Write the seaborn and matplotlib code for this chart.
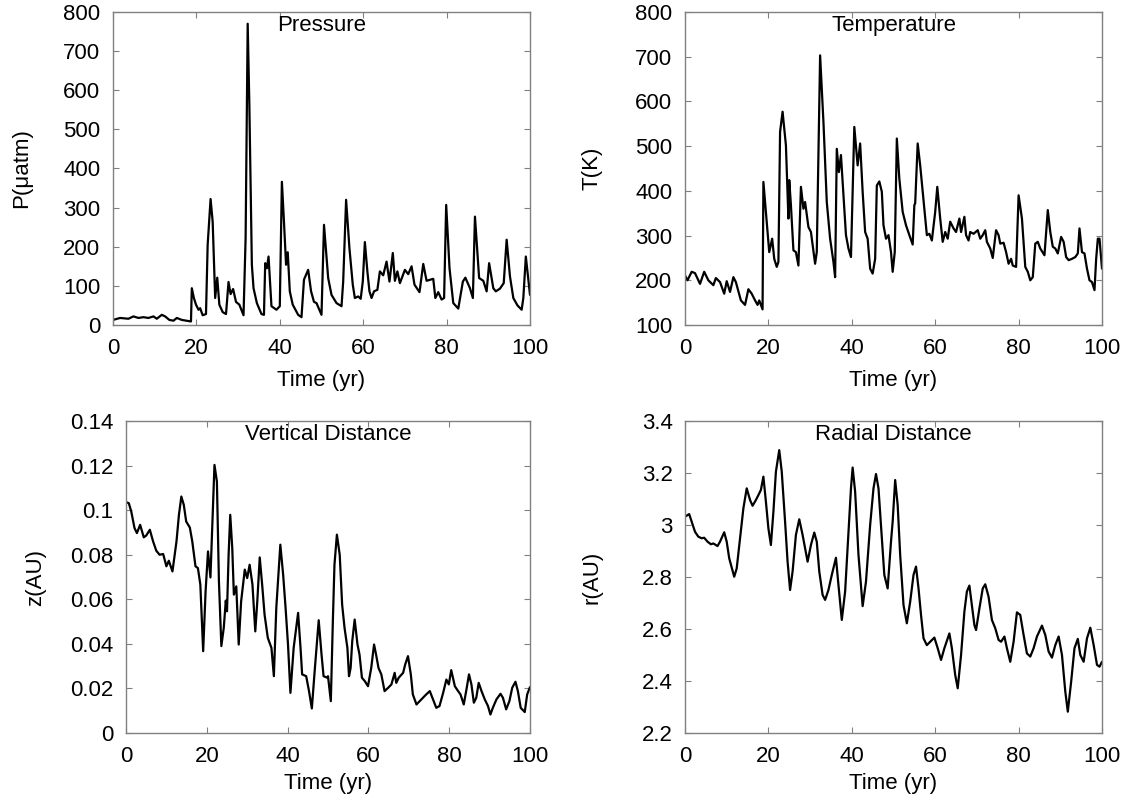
import matplotlib
matplotlib.use("Agg")
import matplotlib.pyplot as plt
from matplotlib.ticker import FormatStrFormatter, MultipleLocator
import seaborn as sns
import pandas as pd

# ---------------- data ----------------
p_time = [0, 1.7, 3.7, 4.9, 6.1, 7.3, 8.5, 9.7, 10.5, 11.7, 12.5, 13.5, 14.5, 15.3, 16.5, 18.7,
          18.9, 19.4, 19.9, 20.5, 20.9, 21.5, 22.3, 22.7, 23.4, 23.9, 24.5, 25.0, 25.5, 26.3, 27.1,
          27.7, 28.2, 28.8, 29.5, 30.3, 31.3, 31.8, 32.3, 32.7, 33.3, 33.7, 34.5, 35.6, 36.2, 36.5,
          36.9, 37.3, 38.0, 39.2, 40.0, 40.5, 41.0, 41.5, 41.9, 42.4, 43.1, 44.4, 45.2, 45.8, 46.8,
          47.5, 48.2, 48.8, 50.0, 50.6, 51.6, 52.4, 53.6, 54.8, 55.2, 55.9, 56.7, 57.5, 58.0, 58.8,
          59.4, 59.9, 60.4, 61.0, 61.5, 62.0, 62.6, 63.4, 64.0, 64.8, 65.6, 66.3, 67.1, 67.6, 68.2,
          68.8, 70.0, 70.8, 71.6, 72.3, 73.5, 74.4, 75.2, 76.2, 76.8, 77.3, 78.0, 78.8, 79.4, 79.9,
          80.7, 81.6, 82.8, 83.9, 84.5, 85.6, 86.3, 86.8, 87.8, 88.8, 89.6, 90.2, 91.2, 91.8, 92.8,
          93.7, 94.4, 95.2, 96.0, 97.0, 98.0, 98.4, 99.0, 100]
p_val = [13, 18, 16, 22, 18, 20, 18, 22, 16, 26, 22, 13, 11, 18, 13, 9,
         94, 69, 52, 39, 43, 25, 28, 205, 322, 264, 69, 121, 52, 33, 28,
         110, 79, 92, 59, 52, 25, 222, 770, 562, 154, 94, 56, 28, 26, 158,
         145, 175, 48, 39, 48, 366, 264, 154, 186, 86, 52, 26, 20, 116, 141,
         86, 59, 56, 26, 256, 120, 77, 56, 48, 111, 320, 196, 103, 69, 73,
         67, 111, 212, 137, 86, 69, 86, 90, 137, 127, 162, 111, 184, 113, 137,
         107, 141, 130, 150, 103, 84, 156, 113, 116, 118, 69, 84, 65, 69, 307,
         145, 56, 42, 111, 121, 94, 69, 277, 120, 113, 86, 158, 94, 86, 93,
         107, 218, 124, 69, 50, 39, 69, 175, 77]

t_time = [0, 0.6, 1.6, 2.4, 3.6, 4.6, 5.6, 6.8, 7.4, 8.4, 9.4, 10.0, 10.8, 11.6, 12.2, 13.4,
          14.4, 15.2, 16.0, 16.8, 17.4, 17.8, 18.6, 18.8, 19.4, 20.2, 20.9, 21.4, 22.0, 22.4, 22.8,
          23.4, 24.2, 24.8, 25.0, 25.4, 26.0, 26.6, 27.2, 27.8, 28.4, 28.8, 29.6, 30.2, 31.2, 31.6,
          32.4, 33.2, 34.0, 34.8, 35.6, 36.0, 36.4, 36.9, 37.4, 37.8, 38.6, 39.2, 39.8, 40.2, 40.6,
          41.4, 42.0, 42.6, 43.2, 43.8, 44.4, 45.0, 45.6, 46.0, 46.6, 47.2, 47.6, 48.2, 48.8, 49.4,
          49.8, 50.3, 50.8, 51.4, 52.2, 53.0, 53.8, 54.6, 55.0, 55.2, 55.8, 56.4, 57.0, 57.6, 58.0,
          58.6, 59.2, 60.0, 60.5, 61.2, 61.8, 62.4, 63.0, 63.6, 64.4, 65.0, 65.8, 66.2, 67.0, 67.4,
          68.0, 68.4, 69.2, 70.2, 70.8, 71.4, 72.0, 72.4, 73.2, 73.8, 74.6, 75.2, 75.6, 76.4, 77.0,
          77.6, 78.2, 78.6, 79.4, 80.0, 80.8, 81.6, 82.2, 82.8, 83.4, 84.0, 84.6, 85.2, 86.2, 87.0,
          87.6, 88.2, 88.8, 89.4, 90.2, 90.8, 91.4, 92.0, 92.8, 93.6, 94.2, 94.6, 95.2, 95.8, 96.4,
          97.0, 97.6, 98.2, 98.6, 99.0, 99.4, 100]
t_val = [211, 200, 219, 216, 192, 219, 200, 189, 205, 196, 170, 198, 174, 207, 196, 155,
         145, 180, 170, 155, 145, 155, 135, 420, 353, 263, 293, 248, 230, 241, 532,
         577, 502, 338, 424, 368, 267, 263, 233, 409, 360, 375, 319, 308, 237, 263,
         703, 554, 375, 293, 241, 207, 494, 442, 480, 420, 301, 271, 252, 398, 543,
         457, 506, 398, 308, 293, 226, 215, 248, 412, 421, 398, 323, 293, 301, 263,
         219, 263, 517, 427, 353, 323, 301, 280, 368, 372, 506, 457, 398, 338, 301,
         304, 289, 353, 409, 338, 286, 308, 293, 331, 316, 308, 338, 308, 342, 301,
         289, 308, 304, 312, 293, 301, 312, 286, 271, 250, 312, 301, 282, 284, 263,
         237, 248, 233, 230, 390, 338, 230, 219, 200, 207, 282, 286, 271, 256, 357,
         308, 275, 271, 260, 297, 286, 252, 245, 248, 252, 260, 316, 263, 260, 226,
         200, 196, 178, 248, 293, 293, 226]

z_time = [0, 0.7, 1.3, 2.1, 2.7, 3.5, 4.4, 5.0, 5.9, 6.7, 7.5, 8.3, 9.2, 10.0, 10.6, 11.5,
          12.5, 13.1, 13.7, 14.3, 14.9, 15.8, 16.4, 17.2, 17.8, 18.4, 19.1, 19.7, 20.3, 20.9, 21.4,
          21.9, 22.5, 23.0, 23.6, 24.2, 24.7, 25.0, 25.4, 25.8, 26.3, 26.7, 27.3, 27.9, 28.5, 29.4,
          30.0, 30.6, 31.3, 32.0, 32.5, 33.1, 33.7, 34.3, 35.1, 36.0, 36.6, 37.2, 38.2, 38.9, 39.5,
          40.1, 40.7, 41.5, 42.6, 43.2, 43.6, 44.6, 45.3, 46.0, 46.7, 47.7, 48.4, 48.9, 49.8, 50.0,
          50.7, 51.2, 51.6, 52.2, 52.9, 53.5, 54.1, 54.8, 55.2, 55.6, 56.0, 56.6, 57.3, 57.8, 58.4,
          59.1, 59.9, 60.7, 61.4, 61.9, 62.5, 63.2, 64.0, 64.9, 65.7, 66.5, 66.9, 67.5, 68.6, 69.1,
          69.8, 70.5, 71.0, 71.9, 72.7, 73.5, 74.3, 75.2, 76.0, 76.8, 77.6, 78.5, 79.3, 79.9, 80.5,
          81.4, 82.2, 82.8, 83.6, 84.2, 84.9, 85.5, 86.1, 86.7, 87.3, 88.0, 88.8, 89.6, 90.2, 90.8,
          91.7, 92.7, 93.3, 94.1, 94.9, 95.6, 96.4, 97.0, 97.7, 98.7, 99.3, 100]
z_val = [0.1036, 0.1031, 0.0994, 0.0920, 0.0897, 0.0934, 0.0878, 0.0886, 0.0912, 0.0860, 0.0818,
         0.0800, 0.0803, 0.0748, 0.0773, 0.0725, 0.0860, 0.0979, 0.1061, 0.1024, 0.0949, 0.0922,
         0.0860, 0.0748, 0.0740, 0.0666, 0.0367, 0.0636, 0.0815, 0.0698, 0.0949, 0.1203, 0.1128,
         0.0681, 0.0390, 0.0472, 0.0594, 0.0546, 0.0800, 0.0979, 0.0830, 0.0621, 0.0658, 0.0397,
         0.0591, 0.0733, 0.0695, 0.0755, 0.0666, 0.0456, 0.0591, 0.0788, 0.0666, 0.0531, 0.0427,
         0.0382, 0.0255, 0.0561, 0.0845, 0.0710, 0.0561, 0.0397, 0.0180, 0.0382, 0.0539, 0.0382,
         0.0263, 0.0255, 0.0188, 0.0110, 0.0278, 0.0506, 0.0352, 0.0255, 0.0248, 0.0255, 0.0143,
         0.0501, 0.0755, 0.0890, 0.0800, 0.0576, 0.0471, 0.0382, 0.0255, 0.0292, 0.0412, 0.0509,
         0.0397, 0.0352, 0.0248, 0.0233, 0.0210, 0.0292, 0.0397, 0.0352, 0.0292, 0.0263, 0.0188,
         0.0203, 0.0218, 0.0270, 0.0225, 0.0248, 0.0270, 0.0307, 0.0345, 0.0263, 0.0173, 0.0128,
         0.0143, 0.0158, 0.0173, 0.0188, 0.0151, 0.0113, 0.0121, 0.0180, 0.0240, 0.0218, 0.0282,
         0.0210, 0.0188, 0.0173, 0.0128, 0.0188, 0.0263, 0.0218, 0.0136, 0.0158, 0.0225, 0.0188,
         0.0151, 0.0121, 0.0083, 0.0113, 0.0151, 0.0176, 0.0158, 0.0106, 0.0143, 0.0203, 0.0230,
         0.0188, 0.0113, 0.0094, 0.0173, 0.0206]

r_time = [0, 1.0, 1.6, 2.4, 3.2, 4.0, 4.6, 5.4, 6.2, 6.8, 7.8, 8.4, 9.4, 10.0, 10.6, 11.8,
          12.4, 13.2, 14.0, 14.8, 15.6, 16.2, 17.0, 17.6, 18.2, 18.8, 19.4, 20.0, 20.6, 21.2, 21.8,
          22.6, 23.2, 24.0, 24.6, 25.2, 25.8, 26.6, 27.4, 28.2, 28.8, 29.4, 30.2, 31.0, 31.6, 32.2,
          33.0, 33.6, 34.4, 35.2, 36.2, 36.8, 37.6, 38.4, 39.2, 39.8, 40.2, 40.8, 41.6, 42.6, 43.4,
          44.4, 45.2, 45.8, 46.4, 47.2, 47.8, 48.6, 49.4, 49.8, 50.4, 51.0, 51.6, 52.4, 53.2, 54.0,
          54.8, 55.4, 56.0, 56.6, 57.2, 58.0, 58.8, 59.8, 60.6, 61.4, 62.2, 63.4, 64.0, 64.8, 65.4,
          66.2, 67.0, 67.6, 68.2, 68.8, 69.4, 69.8, 70.6, 71.4, 72.0, 72.8, 73.6, 74.4, 75.2, 75.8,
          76.6, 77.2, 78.0, 78.8, 79.6, 80.4, 81.2, 82.0, 82.8, 83.6, 84.4, 85.6, 86.4, 87.2, 88.0,
          88.8, 89.6, 90.4, 91.2, 91.8, 92.6, 93.4, 94.2, 94.8, 95.6, 96.4, 97.2, 98.0, 98.8, 99.4,
          100]
r_val = [3.032, 3.042, 3.013, 2.974, 2.955, 2.949, 2.951, 2.936, 2.926, 2.929, 2.919, 2.936,
         2.972, 2.936, 2.872, 2.801, 2.833, 2.949, 3.064, 3.141, 3.096, 3.074, 3.096, 3.115,
         3.135, 3.186, 3.090, 2.987, 2.923, 3.051, 3.205, 3.288, 3.205, 3.013, 2.859, 2.750,
         2.821, 2.962, 3.022, 2.962, 2.910, 2.859, 2.923, 2.971, 2.936, 2.821, 2.731, 2.712,
         2.750, 2.808, 2.874, 2.769, 2.635, 2.744, 2.974, 3.141, 3.221, 3.128, 2.885, 2.688,
         2.782, 3.000, 3.141, 3.196, 3.141, 2.949, 2.808, 2.756, 2.936, 3.013, 3.173, 3.077,
         2.885, 2.692, 2.622, 2.705, 2.808, 2.840, 2.756, 2.654, 2.564, 2.538, 2.551, 2.567,
         2.526, 2.481, 2.526, 2.583, 2.526, 2.423, 2.372, 2.500, 2.667, 2.744, 2.767, 2.692,
         2.615, 2.596, 2.679, 2.756, 2.772, 2.724, 2.635, 2.603, 2.558, 2.551, 2.571, 2.526,
         2.474, 2.551, 2.664, 2.654, 2.577, 2.506, 2.494, 2.526, 2.571, 2.613, 2.577, 2.513,
         2.490, 2.538, 2.571, 2.500, 2.359, 2.282, 2.397, 2.526, 2.562, 2.500, 2.474, 2.564,
         2.605, 2.538, 2.462, 2.455, 2.474]

titles = ["Pressure", "Temperature", "Vertical Distance", "Radial Distance"]
ylabels = ["P(\u03bcatm)", "T(K)", "z(AU)", "r(AU)"]
xlabel = "Time (yr)"
ylims = [(0, 800), (100, 800), (0, 0.14), (2.2, 3.4)]
ysteps = [100, 100, 0.02, 0.2]

# ---------------- style ----------------
sns.set_style("ticks")
plt.rcParams["font.family"] = ["Liberation Sans", "DejaVu Sans"]
plt.rcParams["text.color"] = "black"
plt.rcParams["axes.labelcolor"] = "black"
plt.rcParams["xtick.labelcolor"] = "black"
plt.rcParams["ytick.labelcolor"] = "black"
FS = 16

W, H = 1132, 806
fig = plt.figure(figsize=(W / 100, H / 100), dpi=100)

# axes boxes in pixels: left, top, right, bottom
boxes = [(113, 12, 530, 325), (685, 12, 1102, 325),
         (126, 421, 530, 733), (685, 421, 1102, 733)]
ylab_x = [-0.195, -0.197, -0.198, -0.197]
xlab_y = [-0.145, -0.145, -0.127, -0.127]

series = [(p_time, p_val), (t_time, t_val), (z_time, z_val), (r_time, r_val)]

for i, (box, (xs, ys)) in enumerate(zip(boxes, series)):
    l, t, r, b = box
    ax = fig.add_axes([l / W, 1 - b / H, (r - l) / W, (b - t) / H])
    df = pd.DataFrame({"time": xs, "value": ys})
    sns.lineplot(data=df, x="time", y="value", ax=ax, color="black",
                 linewidth=1.6, estimator=None, sort=False)
    ax.set_xlim(0, 100)
    ax.set_ylim(*ylims[i])
    ax.xaxis.set_major_locator(MultipleLocator(20))
    ax.yaxis.set_major_locator(MultipleLocator(ysteps[i]))
    ax.yaxis.set_major_formatter(FormatStrFormatter("%g"))
    ax.xaxis.set_major_formatter(FormatStrFormatter("%g"))
    ax.tick_params(direction="in", length=4, width=0.8, color="#808080",
                   top=True, right=True, labelsize=FS, pad=9,
                   labelcolor="black")
    for s in ax.spines.values():
        s.set_color("#808080")
        s.set_linewidth(1.0)
    ax.set_xlabel(xlabel, fontsize=FS, color="black")
    ax.set_ylabel(ylabels[i], fontsize=FS, color="black")
    ax.yaxis.set_label_coords(ylab_x[i], 0.5)
    ax.xaxis.set_label_coords(0.5, xlab_y[i])
    ax.text(0.5, 0.99, titles[i], transform=ax.transAxes, ha="center", va="top",
            fontsize=FS, color="black")

fig.savefig("out.png", dpi=100)
